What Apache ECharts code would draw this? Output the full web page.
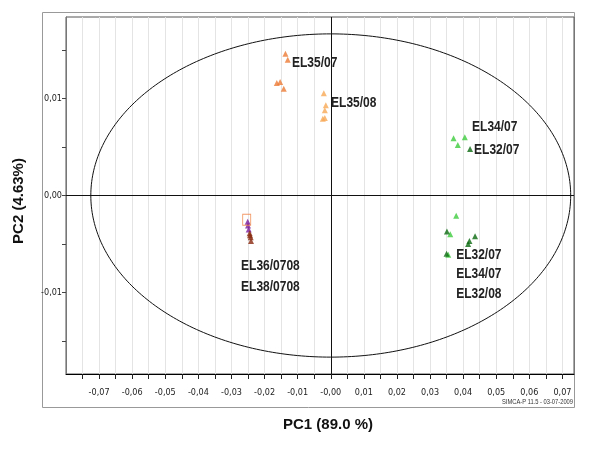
<!DOCTYPE html>
<html><head><meta charset="utf-8">
<script src="https://cdn.jsdelivr.net/npm/echarts@6/dist/echarts.min.js"></script>
<style>html,body{margin:0;padding:0;background:#fff}#c{width:600px;height:450px}</style>
</head><body><div id="c"></div>
<script>
// ---- data ----
const el35_07 = [[-0.0137,0.0146],[-0.0130,0.0140],[-0.0163,0.0116],[-0.0153,0.0117],[-0.0142,0.0110]];
const el35_08 = [[-0.0021,0.01055],[-0.0015,0.0093],[-0.0018,0.0088],[-0.0024,0.0079],[-0.0018,0.0080]];
const lightGreen = [[0.0371,0.0059],[0.0405,0.0060],[0.0384,0.0052],[0.0379,-0.0021],[0.0361,-0.0040],[0.0355,-0.0061]];
const darkGreen = [[0.0421,0.0048],[0.0351,-0.0037],[0.0350,-0.0060],[0.0419,-0.0047],[0.0436,-0.0042],[0.0415,-0.0050]];
const purple = [[-0.0251,-0.0027],[-0.0250,-0.0031],[-0.0248,-0.0035]];
const brown = [[-0.0245,-0.0039],[-0.0244,-0.0041],[-0.0242,-0.0043],[-0.0241,-0.0047]];
const selected = [[-0.0254,-0.0025]];
const annotations = [
  [-0.0117,0.0137,'EL35/07'],[0.0001,0.0096,'EL35/08'],
  [0.0427,0.0071,'EL34/07'],[0.0433,0.0047,'EL32/07'],
  [0.0379,-0.0061,'EL32/07'],[0.0379,-0.0081,'EL34/07'],[0.0379,-0.0101,'EL32/08'],
  [-0.0271,-0.0073,'EL36/0708'],[-0.0271,-0.0094,'EL38/0708']
];
const ellipseA = 0.0725, ellipseB = 0.01666;
const xTickValues = [-0.075,-0.07,-0.065,-0.06,-0.055,-0.05,-0.045,-0.04,-0.035,-0.03,-0.025,-0.02,-0.015,-0.01,-0.005,0,0.005,0.01,0.015,0.02,0.025,0.03,0.035,0.04,0.045,0.05,0.055,0.06,0.065,0.07];
const xLabelValues = [-0.07,-0.06,-0.05,-0.04,-0.03,-0.02,-0.01,0,0.01,0.02,0.03,0.04,0.05,0.06,0.07];
const yTickValues = [-0.015,-0.01,-0.005,0,0.005,0.01,0.015];
const yLabelValues = [-0.01,0,0.01];
const xTitle = 'PC1 (89.0 %)', yTitle = 'PC2 (4.63%)';
const stamp = 'SIMCA-P 11.5 - 03-07-2009';

// ---- build ----
const ellipse = [];
for (let i = 0; i <= 360; i++) {
  const t = i * Math.PI / 180;
  ellipse.push([ellipseA * Math.cos(t), ellipseB * Math.sin(t)]);
}
const narrow = "'DejaVu Sans Condensed',sans-serif";
function fmt(v, axis) {
  let s = Math.abs(v).toFixed(2).replace('.', ',');
  if (v < 0 || (axis === 'x' && Math.abs(v) < 1e-9)) s = '-' + s;
  return s;
}
function tri(name, data, color) {
  return {name, type:'scatter', data, symbol:'triangle', symbolSize:6,
    itemStyle:{color}, z:5};
}
const chart = echarts.init(document.getElementById('c'));
const baseGraphic = [
  {type:'rect', shape:{x:42.5, y:12.5, width:532, height:395}, style:{fill:'none', stroke:'#999', lineWidth:1}, z:-1},
  {type:'text', x:328, y:425, style:{text:xTitle, font:'bold 15px "Liberation Sans", Arial, sans-serif', fill:'#111', align:'center', verticalAlign:'middle'}},
  {type:'text', x:19, y:201, rotation:Math.PI/2, style:{text:yTitle, font:'bold 15px "Liberation Sans", Arial, sans-serif', fill:'#111', align:'center', verticalAlign:'middle'}},
  {type:'text', x:573, y:402, scaleX:0.72, style:{text:stamp, font:'8px "Liberation Sans", sans-serif', fill:'#333', align:'right', verticalAlign:'middle'}}
];
chart.setOption({
  animation:false,
  backgroundColor:'#fff',
  grid:{left:66, right:26, top:17, bottom:76, show:true, borderColor:'#555', borderWidth:1},
  xAxis:{type:'value', min:-0.08, max:0.0735, interval:0.005,
    axisLine:{show:true, onZero:false, lineStyle:{color:'#000'}},
    axisTick:{show:true, customValues:xTickValues, length:5, lineStyle:{color:'#222'}},
    axisLabel:{customValues:xLabelValues, formatter:v=>fmt(v,'x'), fontFamily:narrow, fontSize:9, color:'#222', margin:14},
    splitLine:{show:true, lineStyle:{color:'#e4e4e4'}}},
  yAxis:{type:'value', min:-0.0184, max:0.0184,
    axisLine:{show:true, onZero:false, lineStyle:{color:'#777'}},
    axisTick:{show:true, customValues:yTickValues, length:4, lineStyle:{color:'#444'}},
    axisLabel:{customValues:yLabelValues, formatter:v=>fmt(v,'y'), fontFamily:narrow, fontSize:9, color:'#222', margin:4},
    splitLine:{show:false}},
  graphic:baseGraphic,
  series:[
    {type:'line', data:ellipse, showSymbol:false, symbol:'none', lineStyle:{color:'#111', width:1}, z:2, silent:true,
      markLine:{silent:true, symbol:'none', label:{show:false}, lineStyle:{color:'#111', width:1, type:'solid'},
        data:[{xAxis:0},{yAxis:0}]}},
    tri('EL35/07', el35_07, '#ec7a34'),
    tri('EL35/08', el35_08, '#f7a956'),
    tri('lightGreen', lightGreen, '#3ccc3c'),
    tri('darkGreen', darkGreen, '#0c6a12'),
    tri('purple', purple, '#7a1a9a'),
    tri('brown', brown, '#8a2a10'),
    {type:'scatter', data:selected, symbol:'rect', symbolSize:[8,11], itemStyle:{color:'rgba(0,0,0,0)', borderColor:'#f08040', borderWidth:1}, z:6}
  ]
});
// annotation texts placed through the chart's own scales, condensed like the original
const annGraphic = annotations.map(a => {
  const p = chart.convertToPixel({gridIndex:0}, [a[0], a[1]]);
  return {type:'text', x:p[0], y:p[1], scaleX:0.8, z:10,
    style:{text:a[2], font:'bold 15px "Liberation Sans", Arial, sans-serif', fill:'#222', align:'left', verticalAlign:'middle'}};
});
chart.setOption({graphic: baseGraphic.concat(annGraphic)});
</script></body></html>
